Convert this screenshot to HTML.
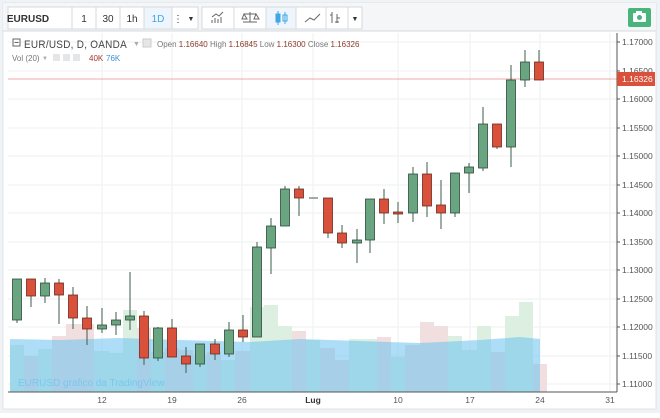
<!DOCTYPE html><html><head><meta charset="utf-8"><style>
body{margin:0;width:660px;height:413px;overflow:hidden;background:#fff;font-family:"Liberation Sans",sans-serif}
</style></head><body>
<svg width="660" height="413" xmlns="http://www.w3.org/2000/svg" font-family="Liberation Sans, sans-serif">
<rect x="0" y="0" width="660" height="413" fill="#f0f3f5"/>
<rect x="3" y="3" width="653" height="406" fill="#fff" stroke="#dfe3e6"/>
<rect x="3" y="3" width="653" height="28" fill="#f4f6f8"/>
<line x1="3" y1="31" x2="656" y2="31" stroke="#d6dadd"/>
<g fill="#fff" stroke="#d6dadd">
<rect x="8" y="7" width="64" height="22"/><rect x="72" y="7" width="24" height="22"/><rect x="96" y="7" width="24" height="22"/><rect x="120" y="7" width="24" height="22"/><rect x="144" y="7" width="28" height="22" fill="#eef5fc"/><rect x="172" y="7" width="26" height="22"/>
<rect x="202" y="7" width="32" height="22"/><rect x="234" y="7" width="32" height="22"/><rect x="266" y="7" width="30" height="22" fill="#eef5fc"/><rect x="296" y="7" width="30" height="22"/><rect x="326" y="7" width="22" height="22"/><rect x="348" y="7" width="14" height="22"/>
</g>
<g font-size="10" fill="#333" text-anchor="middle">
<text x="28" y="22" font-weight="bold" font-size="10">EURUSD</text>
<text x="84" y="22">1</text><text x="108" y="22">30</text><text x="132" y="22">1h</text><text x="158" y="22" fill="#3fa7e6">1D</text>
<text x="178" y="22">⋮</text><text x="191" y="21" font-size="7">▼</text><text x="355" y="21" font-size="7">▼</text>
</g>
<g stroke="#666" fill="none" stroke-width="1">
<path d="M212 23v-3M215 23v-5M218 23v-4M221 23v-6M212 17l4-3 3 2 4-4"/>
<path d="M243 22h14M250 12v10M244 14h12M244 14l-2 5h5zM256 14l-2 5h5z"/>
<path d="M305 22l5-4 4 2 6-6"/><path d="M332 12v11M330 15h2M337 14v9M337 18h3M335 22h4"/>
</g>
<g stroke="#3fa7e6" fill="#3fa7e6"><line x1="278" y1="11" x2="278" y2="25"/><rect x="276" y="14" width="4" height="8"/><line x1="285" y1="12" x2="285" y2="24"/><rect x="283" y="15" width="4" height="6" fill="none"/></g>
<rect x="628" y="8" width="23" height="19" rx="2" fill="#47b57c"/>
<rect x="633" y="13" width="13" height="9" rx="1" fill="#fff"/><circle cx="639.5" cy="17.5" r="2.5" fill="#47b57c"/><rect x="636" y="11" width="6" height="3" fill="#fff"/>
<rect x="8" y="33" width="609" height="359" fill="#fff"/>
<g stroke="#eef0f2">
<line x1="8" y1="42" x2="617" y2="42"/><line x1="8" y1="71" x2="617" y2="71"/><line x1="8" y1="99" x2="617" y2="99"/><line x1="8" y1="128" x2="617" y2="128"/><line x1="8" y1="156" x2="617" y2="156"/><line x1="8" y1="185" x2="617" y2="185"/><line x1="8" y1="213" x2="617" y2="213"/><line x1="8" y1="242" x2="617" y2="242"/><line x1="8" y1="270" x2="617" y2="270"/><line x1="8" y1="299" x2="617" y2="299"/><line x1="8" y1="327" x2="617" y2="327"/><line x1="8" y1="356" x2="617" y2="356"/><line x1="8" y1="384" x2="617" y2="384"/>
<line x1="102" y1="33" x2="102" y2="392"/><line x1="172" y1="33" x2="172" y2="392"/><line x1="242" y1="33" x2="242" y2="392"/><line x1="313" y1="33" x2="313" y2="392"/><line x1="398" y1="33" x2="398" y2="392"/><line x1="470" y1="33" x2="470" y2="392"/><line x1="540" y1="33" x2="540" y2="392"/><line x1="610" y1="33" x2="610" y2="392"/>
</g>
<g>
<rect x="10" y="345" width="14" height="47" fill="#dcefe0"/><rect x="24" y="356" width="14" height="36" fill="#f1dede"/><rect x="38" y="349" width="14" height="43" fill="#dcefe0"/><rect x="52" y="336" width="14" height="56" fill="#f1dede"/><rect x="66" y="324" width="14" height="68" fill="#f1dede"/><rect x="80" y="324" width="14" height="68" fill="#f1dede"/><rect x="94" y="351" width="15" height="41" fill="#dcefe0"/><rect x="109" y="353" width="14" height="39" fill="#dcefe0"/><rect x="123" y="310" width="14" height="82" fill="#dcefe0"/><rect x="137" y="328" width="14" height="64" fill="#f1dede"/><rect x="151" y="352" width="14" height="40" fill="#dcefe0"/><rect x="165" y="348" width="14" height="44" fill="#f1dede"/><rect x="179" y="350" width="14" height="42" fill="#f1dede"/><rect x="193" y="355" width="14" height="37" fill="#dcefe0"/><rect x="207" y="352" width="14" height="40" fill="#f1dede"/><rect x="221" y="360" width="14" height="32" fill="#dcefe0"/><rect x="235" y="351" width="15" height="41" fill="#f1dede"/><rect x="250" y="307" width="14" height="85" fill="#dcefe0"/><rect x="264" y="305" width="14" height="87" fill="#dcefe0"/><rect x="278" y="326" width="14" height="66" fill="#dcefe0"/><rect x="292" y="331" width="14" height="61" fill="#f1dede"/><rect x="306" y="340" width="14" height="52" fill="#dcefe0"/><rect x="320" y="348" width="15" height="44" fill="#f1dede"/><rect x="335" y="360" width="14" height="32" fill="#f1dede"/><rect x="349" y="339" width="28" height="53" fill="#dcefe0"/><rect x="377" y="337" width="14" height="55" fill="#f1dede"/><rect x="391" y="357" width="14" height="35" fill="#dcefe0"/><rect x="405" y="345" width="15" height="47" fill="#f1dede"/><rect x="420" y="322" width="14" height="70" fill="#f1dede"/><rect x="434" y="326" width="14" height="66" fill="#f1dede"/><rect x="448" y="336" width="14" height="56" fill="#dcefe0"/><rect x="462" y="350" width="15" height="42" fill="#dcefe0"/><rect x="477" y="326" width="14" height="66" fill="#dcefe0"/><rect x="491" y="352" width="14" height="40" fill="#f1dede"/><rect x="505" y="316" width="14" height="76" fill="#dcefe0"/><rect x="519" y="302" width="14" height="90" fill="#dcefe0"/><rect x="533" y="364" width="14" height="28" fill="#f1dede"/>
</g>
<path d="M10 339 L60 340 L120 338 L180 340 L250 342 L300 339 L360 341 L420 343 L480 340 L520 337 L540 339 L540 392 L10 392 Z" fill="#6cc2f0" fill-opacity="0.55"/>
<text x="18" y="386" font-size="10" fill="#7cc6ee">EURUSD grafico da TradingView</text>
<line x1="8" y1="79" x2="617" y2="79" stroke="#f0a8a8"/>
<g stroke="#3d5c4a" stroke-width="1">
<line x1="17" y1="279" x2="17" y2="323"/><line x1="31" y1="279" x2="31" y2="307"/><line x1="45" y1="278" x2="45" y2="303"/><line x1="59" y1="279" x2="59" y2="324"/><line x1="73" y1="287" x2="73" y2="329"/><line x1="87" y1="306" x2="87" y2="345"/><line x1="102" y1="308" x2="102" y2="333"/><line x1="116" y1="312" x2="116" y2="335"/><line x1="130" y1="272" x2="130" y2="330"/><line x1="144" y1="311" x2="144" y2="365"/><line x1="158" y1="327" x2="158" y2="361"/><line x1="172" y1="319" x2="172" y2="357"/><line x1="186" y1="347" x2="186" y2="373"/><line x1="200" y1="344" x2="200" y2="367"/><line x1="215" y1="339" x2="215" y2="360"/><line x1="229" y1="322" x2="229" y2="357"/><line x1="243" y1="315" x2="243" y2="342"/><line x1="257" y1="242" x2="257" y2="337"/><line x1="271" y1="218" x2="271" y2="274"/><line x1="285" y1="186" x2="285" y2="226"/><line x1="299" y1="186" x2="299" y2="216"/><line x1="309" y1="198" x2="318" y2="198"/><line x1="328" y1="198" x2="328" y2="238"/><line x1="342" y1="225" x2="342" y2="248"/><line x1="357" y1="229" x2="357" y2="263"/><line x1="370" y1="199" x2="370" y2="253"/><line x1="384" y1="189" x2="384" y2="224"/><line x1="398" y1="202" x2="398" y2="223"/><line x1="413" y1="167" x2="413" y2="222"/><line x1="427" y1="162" x2="427" y2="217"/><line x1="441" y1="180" x2="441" y2="229"/><line x1="455" y1="173" x2="455" y2="217"/><line x1="469" y1="163" x2="469" y2="193"/><line x1="483" y1="107" x2="483" y2="171"/><line x1="497" y1="124" x2="497" y2="149"/><line x1="511" y1="65" x2="511" y2="167"/><line x1="525" y1="50" x2="525" y2="87"/><line x1="539" y1="50" x2="539" y2="80"/>
</g>
<g stroke="#2f4a3a" stroke-width="0.8">
<g fill="#6aa582">
<rect x="12.5" y="279" width="9" height="41"/><rect x="40.5" y="283" width="9" height="13"/><rect x="97.5" y="325" width="9" height="4"/><rect x="111.5" y="320" width="9" height="5"/><rect x="125.5" y="316" width="9" height="4"/><rect x="153.5" y="328" width="9" height="30"/><rect x="195.5" y="344" width="9" height="20"/><rect x="224.5" y="330" width="9" height="24"/><rect x="252.5" y="247" width="9" height="90"/><rect x="266.5" y="226" width="9" height="22"/><rect x="280.5" y="189" width="9" height="37"/><rect x="352.5" y="240" width="9" height="3"/><rect x="365.5" y="199" width="9" height="41"/><rect x="408.5" y="174" width="9" height="39"/><rect x="450.5" y="173" width="9" height="40"/><rect x="464.5" y="167" width="9" height="6"/><rect x="478.5" y="124" width="9" height="44"/><rect x="506.5" y="80" width="9" height="67"/><rect x="520.5" y="62" width="9" height="18"/>
</g>
<g fill="#d9513b" stroke="#6b2a20">
<rect x="26.5" y="279" width="9" height="17"/><rect x="54.5" y="283" width="9" height="12"/><rect x="68.5" y="295" width="9" height="23"/><rect x="82.5" y="318" width="9" height="11"/><rect x="139.5" y="316" width="9" height="42"/><rect x="167.5" y="328" width="9" height="29"/><rect x="181.5" y="356" width="9" height="8"/><rect x="210.5" y="344" width="9" height="10"/><rect x="238.5" y="330" width="9" height="7"/><rect x="294.5" y="189" width="9" height="9"/><rect x="323.5" y="198" width="9" height="35"/><rect x="337.5" y="233" width="9" height="10"/><rect x="379.5" y="199" width="9" height="14"/><rect x="393.5" y="212" width="9" height="2"/><rect x="422.5" y="174" width="9" height="32"/><rect x="436.5" y="205" width="9" height="8"/><rect x="492.5" y="124" width="9" height="23"/><rect x="534.5" y="62" width="9" height="18"/>
</g></g>
<line x1="617" y1="33" x2="617" y2="392" stroke="#555"/>
<line x1="8" y1="392" x2="617" y2="392" stroke="#555"/>
<g stroke="#555"><line x1="617" y1="42" x2="620" y2="42"/><line x1="617" y1="71" x2="620" y2="71"/><line x1="617" y1="99" x2="620" y2="99"/><line x1="617" y1="128" x2="620" y2="128"/><line x1="617" y1="156" x2="620" y2="156"/><line x1="617" y1="185" x2="620" y2="185"/><line x1="617" y1="213" x2="620" y2="213"/><line x1="617" y1="242" x2="620" y2="242"/><line x1="617" y1="270" x2="620" y2="270"/><line x1="617" y1="299" x2="620" y2="299"/><line x1="617" y1="327" x2="620" y2="327"/><line x1="617" y1="356" x2="620" y2="356"/><line x1="617" y1="384" x2="620" y2="384"/></g>
<g font-size="8.5" fill="#555">
<text x="622" y="45">1.17000</text><text x="622" y="74">1.16500</text><text x="622" y="102">1.16000</text><text x="622" y="131">1.15500</text><text x="622" y="159">1.15000</text><text x="622" y="188">1.14500</text><text x="622" y="216">1.14000</text><text x="622" y="245">1.13500</text><text x="622" y="273">1.13000</text><text x="622" y="302">1.12500</text><text x="622" y="330">1.12000</text><text x="622" y="359">1.11500</text><text x="622" y="387">1.11000</text>
</g>
<rect x="617" y="72" width="38" height="14" fill="#d9513b"/>
<text x="622" y="82" font-size="8.5" fill="#fff">1.16326</text>
<g font-size="8.5" fill="#555" text-anchor="middle">
<text x="102" y="403">12</text><text x="172" y="403">19</text><text x="242" y="403">26</text><text x="313" y="403" font-weight="bold" fill="#333">Lug</text><text x="398" y="403">10</text><text x="470" y="403">17</text><text x="540" y="403">24</text><text x="610" y="403">31</text>
</g>
<rect x="13" y="39" width="7" height="7" fill="none" stroke="#666"/><line x1="14.5" y1="42.5" x2="18.5" y2="42.5" stroke="#666"/>
<text x="24" y="48" font-size="11" fill="#444" letter-spacing="0.3" textLength="103" lengthAdjust="spacingAndGlyphs">EUR/USD, D, OANDA</text>
<text x="133" y="46" font-size="7" fill="#aaa">▼</text>
<rect x="143" y="39" width="8" height="8" fill="#e4e6e8" stroke="#ccc"/>
<text x="157" y="47" font-size="8" fill="#777">Open <tspan fill="#8b3a2a">1.16640</tspan> High <tspan fill="#8b3a2a">1.16845</tspan> Low <tspan fill="#8b3a2a">1.16300</tspan> Close <tspan fill="#8b3a2a">1.16326</tspan></text>
<text x="12" y="61" font-size="8" fill="#777">Vol (20)</text><text x="42" y="60" font-size="6" fill="#aaa">▼</text>
<rect x="53" y="54" width="7" height="7" fill="#e4e6e8"/><rect x="63" y="54" width="7" height="7" fill="#e4e6e8"/><rect x="73" y="54" width="7" height="7" fill="#e4e6e8"/>
<text x="89" y="61" font-size="8" fill="#a33">40K</text><text x="106" y="61" font-size="8" fill="#3a8fd9">76K</text>
</svg>
</body></html>
